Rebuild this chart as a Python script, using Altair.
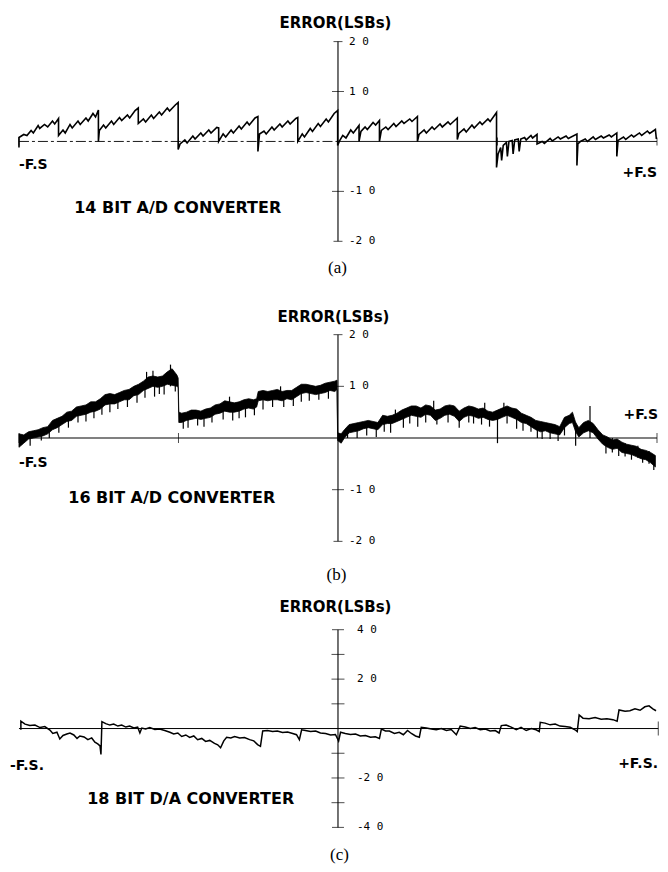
import altair as alt
import pandas as pd

# ---------------- data (x: fraction of full scale, y: error in LSBs) ----------------
# Panel (a): 14 bit A/D converter
A_POINTS = [
    (-1.0, -0.12), (-1.0, 0.08), (-0.985, 0.14), (-0.975, 0.12), (-0.962, 0.22), (-0.955, 0.17), (-0.94, 0.32),
    (-0.935, 0.26), (-0.92, 0.34), (-0.91, 0.29), (-0.895, 0.41), (-0.888, 0.35), (-0.876, 0.46), (-0.876, 0.12),
    (-0.862, 0.23), (-0.855, 0.17), (-0.84, 0.34), (-0.833, 0.27), (-0.815, 0.41), (-0.808, 0.34), (-0.79, 0.47),
    (-0.783, 0.41), (-0.768, 0.56), (-0.76, 0.49), (-0.751, 0.63), (-0.751, 0.0), (-0.748, 0.22),
    (-0.735, 0.33), (-0.728, 0.27), (-0.71, 0.41), (-0.703, 0.34), (-0.685, 0.48), (-0.678, 0.42), (-0.66, 0.53),
    (-0.653, 0.47), (-0.636, 0.62), (-0.626, 0.67), (-0.626, 0.36),
    (-0.61, 0.45), (-0.603, 0.39), (-0.585, 0.53), (-0.578, 0.46), (-0.56, 0.59), (-0.553, 0.53), (-0.535, 0.67),
    (-0.528, 0.61), (-0.51, 0.73), (-0.501, 0.78), (-0.501, -0.16), (-0.495, -0.05),
    (-0.48, 0.03), (-0.473, -0.03), (-0.455, 0.11), (-0.448, 0.05), (-0.43, 0.17), (-0.423, 0.11), (-0.405, 0.23),
    (-0.398, 0.17), (-0.38, 0.28), (-0.374, 0.27), (-0.374, 0.0),
    (-0.36, 0.15), (-0.352, 0.09), (-0.335, 0.23), (-0.328, 0.17), (-0.31, 0.31), (-0.303, 0.25), (-0.285, 0.39),
    (-0.278, 0.33), (-0.26, 0.47), (-0.251, 0.50), (-0.251, -0.2), (-0.246, 0.15),
    (-0.232, 0.21), (-0.225, 0.15), (-0.207, 0.29), (-0.2, 0.23), (-0.182, 0.35), (-0.175, 0.29), (-0.157, 0.41),
    (-0.15, 0.35), (-0.132, 0.46), (-0.126, 0.48), (-0.126, 0.0),
    (-0.112, 0.15), (-0.105, 0.09), (-0.087, 0.26), (-0.08, 0.20), (-0.062, 0.36), (-0.055, 0.30), (-0.037, 0.45),
    (-0.03, 0.39), (-0.012, 0.56), (-0.001, 0.62), (-0.001, -0.08), (0.004, 0.0),
    (0.015, 0.12), (0.025, 0.07), (0.04, 0.23), (0.048, 0.17), (0.066, 0.32), (0.066, 0.0), (0.072, 0.2),
    (0.085, 0.29), (0.092, 0.24), (0.11, 0.38), (0.118, 0.33), (0.13, 0.42), (0.13, 0.0), (0.136, 0.22),
    (0.15, 0.29), (0.157, 0.24), (0.175, 0.36), (0.182, 0.30), (0.2, 0.41), (0.207, 0.36), (0.225, 0.45),
    (0.232, 0.40), (0.249, 0.50), (0.249, 0.0), (0.254, 0.14),
    (0.27, 0.23), (0.277, 0.17), (0.295, 0.29), (0.302, 0.24), (0.32, 0.35), (0.327, 0.29), (0.345, 0.39),
    (0.352, 0.34), (0.374, 0.47), (0.374, 0.04), (0.379, 0.16),
    (0.395, 0.25), (0.402, 0.19), (0.42, 0.33), (0.427, 0.27), (0.445, 0.39), (0.452, 0.34), (0.47, 0.45),
    (0.477, 0.40), (0.497, 0.58), (0.497, -0.52), (0.502, -0.25),
    (0.51, -0.12), (0.513, -0.38), (0.518, -0.08), (0.528, -0.02), (0.531, -0.3), (0.536, 0.0), (0.546, 0.02),
    (0.549, -0.25), (0.554, 0.03), (0.565, 0.05), (0.568, -0.2), (0.573, 0.05), (0.585, 0.08), (0.59, 0.03),
    (0.605, 0.12), (0.61, 0.07), (0.624, 0.14), (0.624, -0.05),
    (0.64, 0.0), (0.647, -0.04), (0.665, 0.06), (0.672, 0.01), (0.69, 0.09), (0.697, 0.05), (0.715, 0.11),
    (0.722, 0.06), (0.749, 0.15), (0.749, -0.48), (0.752, -0.05), (0.76, 0.0),
    (0.775, 0.05), (0.782, 0.0), (0.8, 0.09), (0.807, 0.04), (0.825, 0.11), (0.832, 0.07), (0.85, 0.13),
    (0.857, 0.09), (0.874, 0.17), (0.874, -0.3), (0.878, 0.02),
    (0.895, 0.09), (0.902, 0.04), (0.92, 0.13), (0.927, 0.09), (0.945, 0.17), (0.952, 0.12), (0.97, 0.21),
    (0.977, 0.16), (0.995, 0.24), (0.998, 0.05),
]

# Panel (b): 16 bit A/D converter -- noisy band (x, low, high) and spikes (x, y0, y1)
B_BAND = [
    (-1.000, -0.18, 0.08), (-0.985, -0.10, 0.06), (-0.970, -0.02, 0.12), (-0.955, 0.00, 0.14), (-0.940, 0.02, 0.16),
    (-0.925, 0.04, 0.20), (-0.910, 0.08, 0.22), (-0.895, 0.16, 0.34), (-0.880, 0.20, 0.38), (-0.865, 0.26, 0.42),
    (-0.850, 0.32, 0.50), (-0.835, 0.34, 0.52), (-0.820, 0.42, 0.60), (-0.805, 0.44, 0.62), (-0.790, 0.46, 0.64),
    (-0.775, 0.50, 0.70), (-0.760, 0.52, 0.70), (-0.745, 0.56, 0.76), (-0.730, 0.64, 0.84), (-0.715, 0.66, 0.86),
    (-0.700, 0.66, 0.84), (-0.685, 0.70, 0.88), (-0.670, 0.74, 0.92), (-0.655, 0.74, 0.94), (-0.640, 0.82, 1.00),
    (-0.625, 0.84, 1.04), (-0.610, 0.92, 1.10), (-0.595, 0.96, 1.18), (-0.580, 1.00, 1.20), (-0.565, 0.98, 1.18),
    (-0.550, 1.00, 1.20), (-0.535, 1.04, 1.28), (-0.520, 1.02, 1.34), (-0.505, 1.00, 1.22), (-0.501, 0.98, 1.16),
    (-0.499, 0.30, 0.50), (-0.490, 0.30, 0.48), (-0.475, 0.34, 0.50), (-0.460, 0.36, 0.54), (-0.445, 0.38, 0.54),
    (-0.430, 0.36, 0.52), (-0.415, 0.38, 0.56), (-0.400, 0.40, 0.58), (-0.385, 0.46, 0.64), (-0.370, 0.48, 0.66),
    (-0.355, 0.52, 0.72), (-0.340, 0.50, 0.70), (-0.325, 0.50, 0.68), (-0.310, 0.52, 0.70), (-0.295, 0.56, 0.74),
    (-0.280, 0.58, 0.76), (-0.265, 0.56, 0.74), (-0.255, 0.60, 0.76), (-0.250, 0.72, 0.90), (-0.235, 0.74, 0.92),
    (-0.220, 0.72, 0.90), (-0.205, 0.74, 0.92), (-0.190, 0.74, 0.94), (-0.175, 0.72, 0.90), (-0.160, 0.76, 0.92),
    (-0.145, 0.74, 0.92), (-0.130, 0.80, 0.98), (-0.115, 0.86, 1.04), (-0.100, 0.88, 1.04), (-0.085, 0.86, 1.02),
    (-0.070, 0.84, 1.00), (-0.055, 0.86, 1.02), (-0.040, 0.88, 1.06), (-0.025, 0.92, 1.08), (-0.010, 0.90, 1.10),
    (-0.003, 0.94, 1.12), (-0.001, -0.05, 0.10), (0.010, -0.10, 0.08), (0.020, 0.00, 0.16), (0.035, 0.10, 0.26),
    (0.050, 0.12, 0.28), (0.065, 0.14, 0.30), (0.080, 0.18, 0.32), (0.095, 0.20, 0.34), (0.110, 0.18, 0.32),
    (0.125, 0.16, 0.30), (0.140, 0.26, 0.44), (0.155, 0.28, 0.42), (0.170, 0.28, 0.44), (0.185, 0.32, 0.48),
    (0.200, 0.36, 0.54), (0.215, 0.40, 0.58), (0.230, 0.44, 0.62), (0.245, 0.42, 0.62), (0.260, 0.40, 0.58),
    (0.275, 0.46, 0.64), (0.290, 0.44, 0.62), (0.305, 0.34, 0.54), (0.320, 0.38, 0.56), (0.335, 0.44, 0.62),
    (0.350, 0.46, 0.64), (0.365, 0.42, 0.62), (0.380, 0.32, 0.52), (0.395, 0.40, 0.58), (0.410, 0.44, 0.62),
    (0.425, 0.42, 0.60), (0.440, 0.38, 0.56), (0.455, 0.40, 0.58), (0.470, 0.36, 0.52), (0.485, 0.34, 0.50),
    (0.500, 0.36, 0.54), (0.515, 0.40, 0.58), (0.530, 0.44, 0.62), (0.545, 0.40, 0.58), (0.560, 0.36, 0.56),
    (0.575, 0.30, 0.48), (0.590, 0.28, 0.44), (0.605, 0.22, 0.40), (0.620, 0.16, 0.34), (0.635, 0.12, 0.32),
    (0.650, 0.14, 0.30), (0.665, 0.10, 0.28), (0.680, 0.08, 0.26), (0.695, 0.06, 0.22), (0.710, 0.20, 0.40),
    (0.725, 0.28, 0.44), (0.735, 0.30, 0.50), (0.745, 0.12, 0.30), (0.755, 0.02, 0.20), (0.770, 0.10, 0.30),
    (0.785, 0.14, 0.34), (0.800, 0.10, 0.28), (0.815, -0.02, 0.16), (0.830, -0.12, 0.06), (0.845, -0.18, 0.02),
    (0.860, -0.22, -0.04), (0.875, -0.20, -0.02), (0.890, -0.28, -0.08), (0.905, -0.30, -0.12), (0.920, -0.32, -0.14),
    (0.935, -0.36, -0.16), (0.950, -0.40, -0.22), (0.965, -0.42, -0.24), (0.980, -0.48, -0.28), (0.995, -0.56, -0.34),
]
B_SPIKES = [
    (-0.93, -0.05, 0.15), (-0.845, 0.2, 0.45), (-0.79, 0.32, 0.55), (-0.74, 0.45, 0.7), (-0.69, 0.56, 0.8),
    (-0.63, 0.68, 0.95), (-0.575, 0.8, 1.1), (-0.545, 0.84, 1.1), (-0.525, 1.0, 1.42), (-0.47, 0.2, 0.45),
    (-0.42, 0.22, 0.5), (-0.36, 0.36, 0.6), (-0.33, 0.34, 0.6), (-0.29, 0.4, 0.66), (-0.262, 0.44, 0.7),
    (-0.17, 0.6, 0.85), (-0.09, 0.72, 0.95), (-0.03, 0.76, 1.0), (0.06, 0.0, 0.2), (0.12, 0.02, 0.25),
    (0.165, 0.1, 0.35), (0.25, 0.22, 0.5), (0.31, 0.26, 0.5), (0.38, 0.2, 0.45), (0.45, 0.26, 0.48),
    (0.5, -0.1, 0.4), (0.56, 0.18, 0.45), (0.605, 0.12, 0.35), (0.64, -0.02, 0.25), (0.69, -0.06, 0.2),
    (0.745, -0.15, 0.3), (0.79, 0.0, 0.62), (0.86, -0.28, 0.0), (0.9, -0.36, -0.1), (0.94, -0.38, -0.15),
    (0.975, -0.5, -0.25),
    (-0.965, -0.15, 0.05), (-0.905, 0.0, 0.2), (-0.875, 0.1, 0.3), (-0.815, 0.3, 0.5), (-0.765, 0.38, 0.6),
    (-0.715, 0.5, 0.75), (-0.66, 0.6, 0.85), (-0.605, 0.78, 1.0), (-0.56, 0.85, 1.05), (-0.51, 0.9, 1.15),
    (-0.485, 0.18, 0.4), (-0.44, 0.24, 0.45), (-0.395, 0.3, 0.55), (-0.31, 0.38, 0.6), (-0.235, 0.55, 0.8),
    (-0.205, 0.6, 0.85), (-0.14, 0.62, 0.85), (-0.115, 0.7, 0.95), (-0.06, 0.74, 0.95), (0.03, 0.0, 0.2),
    (0.09, 0.05, 0.25), (0.145, 0.12, 0.35), (0.205, 0.2, 0.45), (0.225, 0.28, 0.5), (0.275, 0.3, 0.55),
    (0.345, 0.3, 0.55), (0.41, 0.3, 0.5), (0.425, 0.28, 0.5), (0.475, 0.22, 0.45), (0.53, 0.28, 0.5),
    (0.58, 0.14, 0.35), (0.625, 0.0, 0.25), (0.665, -0.02, 0.2), (0.71, 0.05, 0.3), (0.84, -0.3, -0.05),
    (0.88, -0.35, -0.1), (0.92, -0.42, -0.2), (0.955, -0.48, -0.25), (0.99, -0.62, -0.4),
    (-0.6, 1.1, 1.28), (-0.58, 1.15, 1.3), (-0.34, 0.65, 0.8), (-0.18, 0.85, 1.0), (0.18, 0.4, 0.55),
    (0.3, 0.55, 0.72), (0.46, 0.5, 0.68), (0.52, 0.5, 0.68),
]

# Panel (c): 18 bit D/A converter
C_POINTS = [
    (-0.994, -0.05), (-0.994, 0.30), (-0.981, 0.18), (-0.966, 0.12), (-0.950, 0.14), (-0.934, 0.04), (-0.919, 0.08),
    (-0.903, -0.06), (-0.894, -0.20), (-0.881, -0.15), (-0.872, -0.42), (-0.862, -0.28), (-0.850, -0.22),
    (-0.840, -0.18), (-0.828, -0.26), (-0.818, -0.40), (-0.809, -0.30), (-0.796, -0.34), (-0.784, -0.45),
    (-0.772, -0.38), (-0.762, -0.55), (-0.753, -0.62), (-0.746, -0.70), (-0.743, -1.05), (-0.740, 0.28),
    (-0.728, 0.20), (-0.715, 0.14), (-0.703, 0.18), (-0.690, 0.10), (-0.678, 0.14), (-0.665, 0.06), (-0.653, 0.10),
    (-0.640, 0.02), (-0.628, 0.06), (-0.621, -0.18), (-0.615, 0.02), (-0.603, -0.02), (-0.590, 0.04), (-0.574, -0.04),
    (-0.559, -0.02), (-0.543, -0.08), (-0.527, -0.15), (-0.515, -0.22), (-0.502, -0.18), (-0.490, -0.32),
    (-0.477, -0.26), (-0.465, -0.36), (-0.452, -0.30), (-0.440, -0.45), (-0.427, -0.40), (-0.415, -0.52),
    (-0.402, -0.48), (-0.387, -0.60), (-0.377, -0.66), (-0.368, -0.78), (-0.358, -0.50), (-0.349, -0.35),
    (-0.336, -0.38), (-0.324, -0.32), (-0.308, -0.38), (-0.293, -0.36), (-0.277, -0.45), (-0.264, -0.50),
    (-0.252, -0.65), (-0.243, -0.72), (-0.236, -0.10), (-0.221, -0.08), (-0.205, -0.12), (-0.190, -0.10),
    (-0.174, -0.16), (-0.158, -0.14), (-0.142, -0.20), (-0.130, -0.25), (-0.121, -0.45), (-0.114, -0.05),
    (-0.102, -0.08), (-0.086, -0.12), (-0.070, -0.10), (-0.055, -0.18), (-0.039, -0.20), (-0.023, -0.26),
    (-0.008, -0.24), (0.002, -0.50), (0.008, -0.15), (0.023, -0.20), (0.039, -0.24), (0.055, -0.22), (0.070, -0.30),
    (0.086, -0.28), (0.102, -0.35), (0.117, -0.33), (0.130, -0.40), (0.136, -0.02), (0.149, -0.10), (0.161, -0.10),
    (0.177, -0.20), (0.192, -0.15), (0.205, -0.25), (0.218, -0.08), (0.230, -0.20), (0.243, -0.30), (0.255, -0.35),
    (0.261, 0.05), (0.277, 0.02), (0.293, -0.02), (0.308, -0.05), (0.324, 0.00), (0.340, -0.08), (0.355, -0.04),
    (0.371, -0.25), (0.383, 0.10), (0.399, 0.06), (0.415, 0.00), (0.430, 0.04), (0.446, -0.05), (0.462, -0.02),
    (0.477, -0.10), (0.493, -0.08), (0.505, -0.18), (0.512, 0.12), (0.527, 0.14), (0.543, 0.06), (0.559, -0.05),
    (0.574, 0.05), (0.590, -0.08), (0.606, 0.00), (0.621, -0.05), (0.631, -0.12), (0.634, 0.25), (0.649, 0.22),
    (0.665, 0.15), (0.681, 0.18), (0.696, 0.10), (0.712, 0.08), (0.728, 0.05), (0.743, -0.05), (0.750, -0.12),
    (0.756, 0.55), (0.768, 0.42), (0.787, 0.40), (0.806, 0.45), (0.825, 0.38), (0.843, 0.40), (0.862, 0.36),
    (0.875, 0.30), (0.881, 0.75), (0.900, 0.70), (0.915, 0.72), (0.931, 0.80), (0.947, 0.74), (0.962, 0.88),
    (0.975, 0.92), (0.987, 0.80), (0.997, 0.72),
]

# axis furniture
AB_YTICK_VALUES = [2, 1, -1, -2]
AB_YTICK_LABELS = ["2 0", "1 0", "-1 0", "-2 0"]
C_YTICK_VALUES = [4, 2, -2, -4]
C_YTICK_LABELS = ["4 0", "2 0", "-2 0", "-4 0"]
AB_YCROSS = [-1, 1]
C_YCROSS = [-3, -2, -1, 1, 2, 3]
AB_XTICKS = [-1, -0.5, 0.5, 1]
TITLES = ["14 BIT A/D CONVERTER", "16 BIT A/D CONVERTER", "18 BIT D/A CONVERTER"]

# ---------------- layout ----------------
W = 652
X_DOM = [-1.0344, 1.0063]
xs = alt.Scale(domain=X_DOM, nice=False, zero=False)
ya = alt.Scale(domain=[-2.98, 2.66], nice=False, zero=False)
yb = alt.Scale(domain=[-2.937, 2.86], nice=False, zero=False)
yc = alt.Scale(domain=[-5.455, 5.616], nice=False, zero=False)

BOLD = "DejaVu Sans"
MONO = "DejaVu Sans Mono"
SERIF = "Liberation Serif"


def X(f):
    return alt.X(f, type="quantitative", scale=xs, axis=None)


def Y(f, ys):
    return alt.Y(f, type="quantitative", scale=ys, axis=None)


def label(text, px, py, size, font=BOLD, weight="bold", align="center"):
    return alt.Chart(pd.DataFrame({"t": [text]})).mark_text(
        font=font, fontSize=size, fontWeight=weight, align=align, baseline="middle", color="black"
    ).encode(x=alt.value(px), y=alt.value(py), text="t:N")


def hrule(x0, x1, ys, dash=None, width=1.0):
    kw = dict(color="black", strokeWidth=width)
    if dash:
        kw["strokeDash"] = dash
    return alt.Chart(pd.DataFrame({"x": [x0], "x2": [x1], "y": [0]})).mark_rule(**kw).encode(
        x=X("x"), x2="x2:Q", y=Y("y", ys))


def vaxis(lo, hi, ys):
    return alt.Chart(pd.DataFrame({"x": [0], "y": [lo], "y2": [hi]})).mark_rule(
        color="black", strokeWidth=1.1).encode(x=X("x"), y=Y("y", ys), y2="y2:Q")


def hticks(values, ys, size):
    return alt.Chart(pd.DataFrame({"x": [0] * len(values), "y": values})).mark_tick(
        orient="horizontal", size=size, thickness=1, color="black").encode(x=X("x"), y=Y("y", ys))


def vticks(values, ys, size):
    return alt.Chart(pd.DataFrame({"x": values, "y": [0] * len(values)})).mark_tick(
        orient="vertical", size=size, thickness=1, color="black").encode(x=X("x"), y=Y("y", ys))


def tick_labels(values, labels, ys, dx):
    return alt.Chart(pd.DataFrame({"x": [0] * len(values), "y": values, "t": labels})).mark_text(
        font=MONO, fontSize=11, align="left", baseline="middle", dx=dx, color="black").encode(
        x=X("x"), y=Y("y", ys), text="t:N")


def trace(points, ys, width):
    df = pd.DataFrame(points, columns=["x", "y"])
    df["i"] = range(len(df))
    return alt.Chart(df).mark_line(color="black", strokeWidth=width, strokeJoin="miter").encode(
        x=X("x"), y=Y("y", ys), order="i:Q")


# ---- panel (a)
pa = alt.layer(
    hrule(-1, 0, ya, dash=[10, 3, 3, 3], width=0.9),
    hrule(0, 1, ya, width=0.9),
    vaxis(-2, 2, ya),
    hticks([2, -2], ya, 9),
    hticks(AB_YCROSS, ya, 12),
    vticks(AB_XTICKS, ya, 8),
    tick_labels(AB_YTICK_VALUES, AB_YTICK_LABELS, ya, 11),
    trace(A_POINTS, ya, 1.6),
    label("ERROR(LSBs)", 328, 14, 15),
    label("-F.S", 11, 157, 14, align="left"),
    label("+F.S", 650, 165, 14, align="right"),
    label(TITLES[0], 170, 200, 16),
    label("(a)", 330, 260, 17, font=SERIF, weight="normal"),
).properties(width=W, height=282)

# ---- panel (b)
dfb = pd.DataFrame(B_BAND, columns=["x", "lo", "hi"])
band = alt.Chart(dfb).mark_area(color="black", stroke="black", strokeWidth=0.8, opacity=1,
                                orient="vertical").encode(
    x=X("x"), y=Y("hi", yb), y2="lo:Q")
dfs = pd.DataFrame(B_SPIKES, columns=["x", "y0", "y1"])
spikes = alt.Chart(dfs).mark_rule(color="black", strokeWidth=1.2).encode(
    x=X("x"), y=Y("y0", yb), y2="y1:Q")

pb = alt.layer(
    hrule(-1, 1, yb, width=1.0),
    vaxis(-2, 2, yb),
    hticks([2, -2], yb, 9),
    hticks(AB_YCROSS, yb, 12),
    vticks(AB_XTICKS, yb, 10),
    tick_labels(AB_YTICK_VALUES, AB_YTICK_LABELS, yb, 11),
    band,
    spikes,
    label("ERROR(LSBs)", 326, 27, 15),
    label("-F.S", 11, 173, 14, align="left"),
    label("+F.S", 651, 125, 14, align="right"),
    label(TITLES[1], 164, 208, 16),
    label("(b)", 329, 285, 17, font=SERIF, weight="normal"),
).properties(width=W, height=300)

# ---- panel (c)
pc = alt.layer(
    hrule(-1, 1.004, yc, width=1.0),
    vaxis(-4, 4, yc),
    hticks([4, -4], yc, 12),
    hticks(C_YCROSS, yc, 13),
    vticks([1.004], yc, 14),
    tick_labels(C_YTICK_VALUES, C_YTICK_LABELS, yc, 19),
    trace(C_POINTS, yc, 1.5),
    label("ERROR(LSBs)", 328, 17, 15),
    label("-F.S.", 2, 177, 14, align="left"),
    label("+F.S.", 651, 175, 14, align="right"),
    label(TITLES[2], 183, 210, 16),
    label("(c)", 332, 266, 17, font=SERIF, weight="normal"),
).properties(width=W, height=274)

chart = alt.vconcat(pa, pb, pc, spacing=0, bounds="flush").properties(
    padding=0, background="white"
).configure_view(stroke=None)

chart.save("out.html", embed_options={"renderer": "svg", "actions": False})
